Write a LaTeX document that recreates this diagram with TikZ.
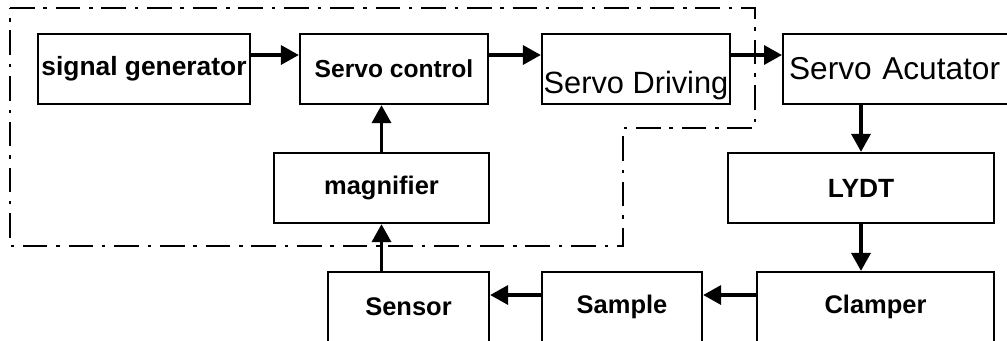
\documentclass[tikz,border=0pt]{standalone}
\usepackage{fontspec}
\setmainfont{Liberation Sans}
\usetikzlibrary{arrows.meta}

\begin{document}
\begin{tikzpicture}[
  box/.style={draw, line width=1.3pt, minimum height=1.4cm, inner sep=0pt, font=\bfseries\fontsize{14.5}{16}\selectfont},
  arrow/.style={-{Triangle[length=0.36cm, width=0.38cm]}, line width=2pt},
  border/.style={line width=1.2pt, dash pattern=on 14pt off 5pt on 2pt off 5pt}
]
\useasboundingbox (0,0) rectangle (20.14,-6.8);
\clip (0,0) rectangle (20.14,-6.8);

% top row
\node[box, minimum width=4.24cm, font=\bfseries\fontsize{15}{17}\selectfont] (sig) at (2.88,-1.38) {signal generator};
\node[box, minimum width=3.76cm, font=\bfseries\fontsize{14}{16}\selectfont] (ctrl) at (7.88,-1.38) {Servo control};
\node[box, minimum width=3.76cm] (drv) at (12.72,-1.38) {};
\node[anchor=base west, inner sep=0pt, font=\fontsize{17.5}{20}\selectfont] (drvtxt) at ([xshift=0.05cm, yshift=-0.48cm]drv.west) {Servo Driving};
\node[box, anchor=west, text width=4.8cm, inner xsep=0.12cm, font=\fontsize{18}{22}\selectfont] (act) at (15.64,-1.38) {Servo Acutator};

% middle row
\node[box, minimum width=4.30cm] (mag) at (7.63,-3.76) {magnifier};
\node[box, minimum width=5.32cm, font=\bfseries\fontsize{15}{17}\selectfont] (lydt) at (17.22,-3.76) {LYDT};

% bottom row
\node[box, minimum width=3.22cm] (sens) at (8.17,-6.14) {Sensor};
\node[box, minimum width=3.20cm] (samp) at (12.44,-6.14) {Sample};
\node[box, minimum width=4.74cm] (clamp) at (17.51,-6.14) {Clamper};

% controller boundary
\draw[border] (0.20,-0.16) -- (15.10,-0.16) -- (15.10,-2.56) -- (12.46,-2.56) -- (12.46,-4.92) -- (0.20,-4.92) -- cycle;

% arrows
\draw[arrow] ([yshift=0.28cm]sig.east) -- ([yshift=0.28cm]ctrl.west);
\draw[arrow] ([yshift=0.28cm]ctrl.east) -- ([yshift=0.28cm]drv.west);
\draw[arrow] ([yshift=0.28cm]drv.east) -- ([yshift=0.28cm]act.west);
\draw[arrow] (act.south -| lydt.north) -- (lydt.north);
\draw[arrow] (lydt.south) -- (lydt.south |- clamp.north);
\draw[arrow] ([yshift=0.24cm]clamp.west) -- ([yshift=0.24cm]samp.east);
\draw[arrow] ([yshift=0.24cm]samp.west) -- ([yshift=0.24cm]sens.east);
\draw[arrow] (sens.north -| mag.south) -- (mag.south);
\draw[arrow] (mag.north) -- (mag.north |- ctrl.south);
\end{tikzpicture}
\end{document}
